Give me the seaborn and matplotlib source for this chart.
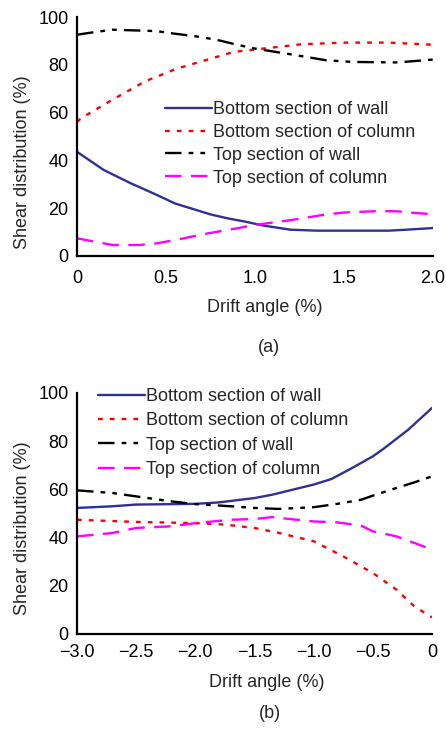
import matplotlib
matplotlib.use("Agg")
import matplotlib.pyplot as plt
import seaborn as sns
import pandas as pd

# (a) positive drift
x_a_bw = [0, 0.15, 0.3, 0.45, 0.55, 0.75, 0.85, 0.95, 1.05, 1.2, 1.35, 1.5, 1.75, 1.85, 2.0]
y_a_bw = [43.6, 36, 30.5, 25.5, 22, 17.4, 15.7, 14.3, 12.7, 11, 10.6, 10.6, 10.6, 11, 11.7]
x_a_bc = [0, 0.02, 0.19, 0.38, 0.56, 0.77, 0.88, 1.07, 1.26, 1.5, 1.75, 2.0]
y_a_bc = [56, 57.5, 65, 73, 78.4, 83, 85.4, 87, 88.6, 89.3, 89.3, 88.4]
x_a_tw = [0, 0.1, 0.2, 0.45, 0.5, 0.7, 0.8, 0.9, 1.0, 1.2, 1.4, 1.55, 1.8, 2.0]
y_a_tw = [92.6, 93.7, 94.7, 94.1, 93.5, 91.6, 90.2, 88.4, 86.8, 84.4, 81.9, 81.2, 81, 82.2]
x_a_tc = [0, 0.1, 0.2, 0.35, 0.45, 0.6, 0.7, 0.9, 1.0, 1.2, 1.4, 1.5, 1.7, 1.8, 1.9, 2.0]
y_a_tc = [7.4, 6, 4.6, 4.6, 5.3, 7.4, 9, 11.6, 13, 15, 17.4, 18.2, 18.8, 18.7, 18, 17.5]

# (b) negative drift
x_b_bw = [-3, -2.7, -2.5, -2.0, -1.8, -1.5, -1.35, -1.2, -1.0, -0.85, -0.7, -0.5, -0.4, -0.2, 0]
y_b_bw = [52.3, 53, 53.7, 54, 54.6, 56.4, 57.8, 59.6, 62, 64.3, 68.2, 73.7, 77.2, 84.8, 93.8]
x_b_bc = [-3, -2.5, -2.0, -1.75, -1.5, -1.3, -1.0, -0.75, -0.5, -0.3, -0.15, 0]
y_b_bc = [47.4, 46.5, 46, 45.4, 44, 42, 38.5, 32.2, 25.3, 18.4, 11.5, 6.9]
x_b_tw = [-3, -2.7, -2.5, -2.2, -2.0, -1.7, -1.5, -1.3, -1.0, -0.8, -0.6, -0.5, -0.3, -0.15, 0]
y_b_tw = [59.6, 58.5, 57.1, 55, 53.9, 53, 52.3, 51.9, 52.6, 54, 55.7, 57.4, 60.6, 62.9, 65.4]
x_b_tc = [-3, -2.7, -2.5, -2.2, -2.0, -1.7, -1.5, -1.35, -1.2, -1.0, -0.8, -0.6, -0.5, -0.3, -0.15, 0]
y_b_tc = [40.5, 41.9, 44, 44.7, 46, 47.4, 47.7, 48.5, 47.7, 46.7, 46.3, 45, 42.6, 40.5, 37.8, 35]

labels = ["Bottom section of wall", "Bottom section of column",
          "Top section of wall", "Top section of column"]
colors = ["#2E3192", "#FF0000", "#000000", "#FF00FF"]
styles = ["-", (0, (2, 3)), (0, (7, 3, 2, 3, 2, 3)), (0, (7, 4))]

FS = 13

sns.set_style("white")
plt.rcParams["font.family"] = ["Liberation Sans", "DejaVu Sans"]
plt.rcParams["font.size"] = FS

fig = plt.figure(figsize=(4.46, 7.31), dpi=100)
ax1 = fig.add_axes([0.1726, 0.6498, 0.7984, 0.3269])
ax2 = fig.add_axes([0.1726, 0.1327, 0.796, 0.3297])


def draw(ax, series):
    for (xs, ys), lab, c, ls in zip(series, labels, colors, styles):
        df = pd.DataFrame({"x": xs, "y": ys})
        sns.lineplot(data=df, x="x", y="y", ax=ax, color=c, linestyle=ls,
                     linewidth=1.7, label=lab)
    ax.set_ylim(0, 100)
    ax.set_yticks([0, 20, 40, 60, 80, 100])
    ax.set_ylabel("Shear distribution (%)", fontsize=FS)
    ax.set_xlabel("Drift angle (%)", fontsize=FS)
    for s in ["top", "right"]:
        ax.spines[s].set_visible(False)
    for s in ["left", "bottom"]:
        ax.spines[s].set_linewidth(1.6)
        ax.spines[s].set_color("black")
    ax.tick_params(direction="in", length=4, width=1.6, labelsize=FS, colors="black")
    ax.tick_params(axis="y", pad=6)


draw(ax1, [(x_a_bw, y_a_bw), (x_a_bc, y_a_bc), (x_a_tw, y_a_tw), (x_a_tc, y_a_tc)])
ax1.set_xlim(0, 2.0)
ax1.set_xticks([0, 0.5, 1.0, 1.5, 2.0])
ax1.set_xticklabels(["0", "0.5", "1.0", "1.5", "2.0"])
ax1.tick_params(axis="x", pad=10)
ax1.xaxis.set_label_coords(0.528, -0.18)
ax1.yaxis.set_label_coords(-0.13, 0.393)
ax1.legend(loc="upper left", bbox_to_anchor=(0.37, 0.862), bbox_transform=fig.transFigure,
           frameon=False, handlelength=2.6, handletextpad=0.05, labelspacing=0.33,
           borderpad=0, borderaxespad=0, fontsize=FS)

draw(ax2, [(x_b_bw, y_b_bw), (x_b_bc, y_b_bc), (x_b_tw, y_b_tw), (x_b_tc, y_b_tc)])
ax2.set_xlim(-3.0, 0)
ax2.set_xticks([-3.0, -2.5, -2.0, -1.5, -1.0, -0.5, 0])
ax2.set_xticklabels(["\u22123.0", "\u22122.5", "\u22122.0", "\u22121.5", "\u22121.0", "\u22120.5", "0"])
ax2.tick_params(axis="x", pad=7.5)
ax2.xaxis.set_label_coords(0.534, -0.165)
ax2.yaxis.set_label_coords(-0.13, 0.44)
ax2.legend(loc="upper left", bbox_to_anchor=(0.22, 0.469), bbox_transform=fig.transFigure,
           frameon=False, handlelength=2.6, handletextpad=0.05, labelspacing=0.4,
           borderpad=0, borderaxespad=0, fontsize=FS)

fig.text(269 / 446, 1 - 347 / 731, "(a)", ha="center", va="center", fontsize=FS)
fig.text(270 / 446, 1 - 713 / 731, "(b)", ha="center", va="center", fontsize=FS)

fig.savefig("out.png", dpi=100)
